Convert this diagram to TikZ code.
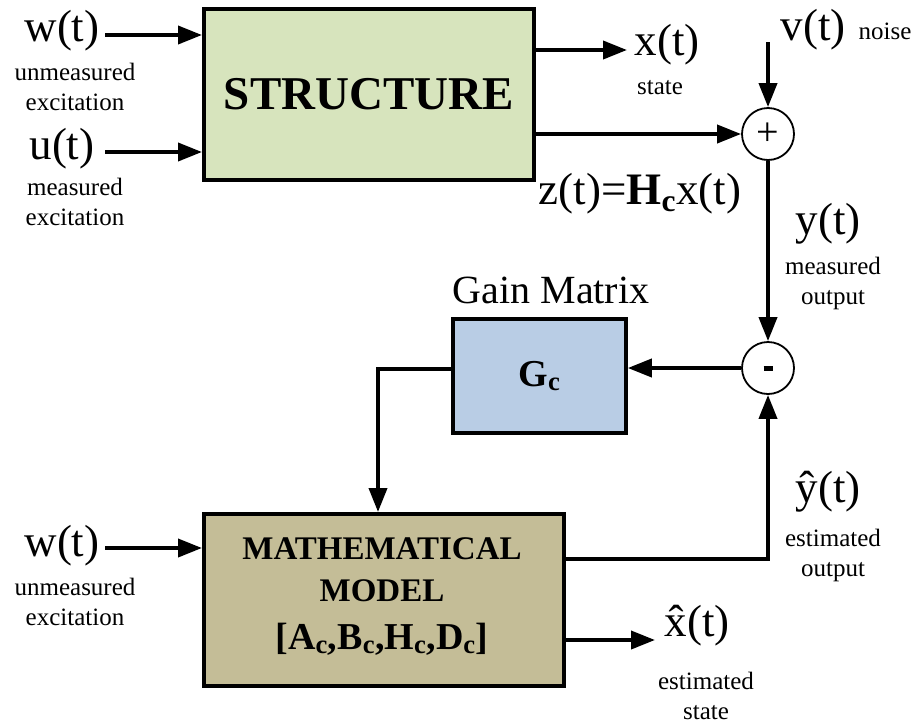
\documentclass[tikz,border=0pt]{standalone}
\usepackage{fontspec}
\setmainfont{Liberation Serif}
\usetikzlibrary{arrows.meta}
\definecolor{strgreen}{HTML}{D7E4BD}
\definecolor{gainblue}{HTML}{B9CDE5}
\definecolor{modeltan}{HTML}{C4BD97}
\begin{document}
\begin{tikzpicture}[x=1pt,y=-1pt,
 blk/.style={draw, line width=3.8pt, inner sep=0pt},
 arr/.style={line width=3.8pt, -{Triangle[length=24pt,width=18pt]}},
 sumc/.style={draw, circle, line width=1.8pt, minimum size=52pt, inner sep=0pt, fill=white},
 big/.style={font=\fontsize{45}{47}\selectfont, inner sep=0pt},
 small/.style={font=\fontsize{25}{30}\selectfont, inner sep=0pt, align=center},
]
\useasboundingbox (0,0) rectangle (918,726);
% blocks
\node[blk, fill=strgreen, minimum width=330pt, minimum height=171pt, anchor=north west,
      font=\fontsize{47}{50}\selectfont\bfseries] (S) at (202,7) {STRUCTURE};
\node[blk, fill=gainblue, minimum width=173pt, minimum height=114pt, anchor=north west,
      font=\fontsize{38}{40}\selectfont\bfseries] (G) at (451,317) {G\textsubscript{c}};
\node[blk, fill=modeltan, minimum width=360pt, minimum height=172pt, anchor=north west] (MM) at (202,512) {};
\node[align=center, font=\fontsize{33}{42}\selectfont\bfseries, inner sep=0pt] (MMt) at (382,597)
  {MATHEMATICAL\\MODEL\\[6pt]{\fontsize{38}{42}\selectfont[A\textsubscript{c},B\textsubscript{c},H\textsubscript{c},D\textsubscript{c}]}};
% summing junctions
\node[sumc, font=\fontsize{40}{40}\selectfont] (P) at (768,134) {\raisebox{-7pt}{+}};
\node[sumc] (M) at (768,368) {\rule[-2.5pt]{9pt}{5pt}};
% labels
\node[big] (w1) at (62,31) {w(t)};
\node[small] (w1d) at (75,87) {unmeasured\\excitation};
\node[big] (u1) at (62,149) {u(t)};
\node[small] (u1d) at (75,202) {measured\\excitation};
\node[big] (xt) at (667,45) {x(t)};
\node[small] (xtd) at (660,88) {state};
\node[big] (vt) at (813,30) {v(t)};
\node[small] (vtd) at (885,31) {noise};
\node[big] (zt) at (640,194) {z(t)=\textbf{H\textsubscript{c}}x(t)};
\node[big] (yt) at (828,224) {y(t)};
\node[small] (ytd) at (833,283) {measured\\output};
\node[font=\fontsize{40}{42}\selectfont, inner sep=0pt] (gm) at (551,290) {Gain Matrix};
\node[big] (w2) at (62,546) {w(t)};
\node[small] (w2d) at (75,602) {unmeasured\\excitation};
\node[big] (yh) at (828,492) {ŷ(t)};
\node[small] (yhd) at (833,555) {estimated\\output};
\node[big] (xh) at (697,626) {\^{x}(t)};
\node[small] (xhd) at (706,696) {estimated\\state};
% coordinates
\coordinate (w1s) at (105,35);
\coordinate (u1s) at (105,152);
\coordinate (xe) at (627,50);
\coordinate (vs) at (768,42);
\coordinate (cor) at (378,369);
\coordinate (w2s) at (105,548);
\coordinate (ycor) at (768,559);
\coordinate (xhe) at (655,640);
% connectors
\draw[arr] (w1s) -- (w1s -| S.west);
\draw[arr] (u1s) -- (u1s -| S.west);
\draw[arr] (xe -| S.east) -- (xe);
\draw[arr] (S.east |- P.west) -- (P.west);
\draw[arr] (vs) -- (P.north);
\draw[arr] (P.south) -- (M.north);
\draw[arr] (M.west) -- (M.west -| G.east);
\draw[arr] (cor -| G.west) -- (cor) -- (cor |- MM.north);
\draw[arr] (w2s) -- (w2s -| MM.west);
\draw[arr] (ycor -| MM.east) -- (ycor) -- (M.south);
\draw[arr] (xhe -| MM.east) -- (xhe);
\end{tikzpicture}
\end{document}
